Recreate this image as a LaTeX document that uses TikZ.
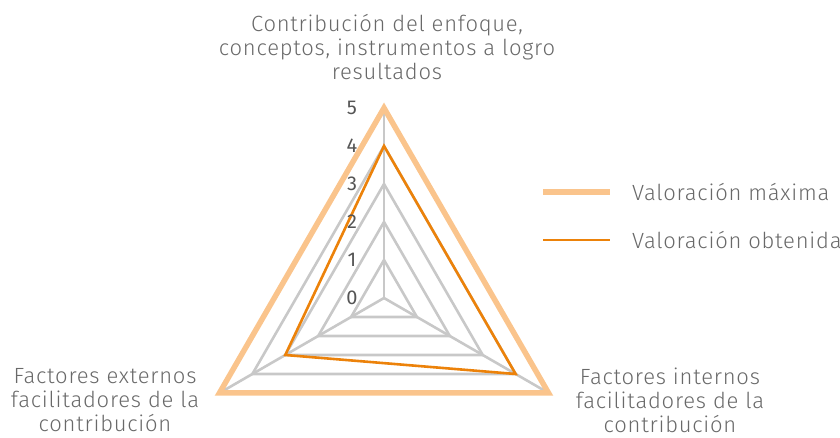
\documentclass[tikz,border=0pt]{standalone}
\usepackage{fontspec}
\setmainfont{Fira Sans}[UprightFont={* Light}, LetterSpace=3.5]
\newfontfamily\numfont{Fira Sans}
\definecolor{maxorange}{RGB}{250, 196, 140}
\definecolor{obtorange}{RGB}{236, 130, 10}
\definecolor{gridgray}{RGB}{200, 200, 200}
\definecolor{labelgray}{RGB}{105, 105, 105}
\definecolor{numgray}{RGB}{85, 85, 85}
\usetikzlibrary{positioning}

\tikzset{
  gridline/.style={draw=gridgray, line width=2.6pt},
  maxline/.style={draw=maxorange, line width=5.5pt},
  obtline/.style={draw=obtorange, line width=2.6pt},
  axislabel/.style={text=labelgray, align=center, font=\fontsize{22}{24}\selectfont, inner sep=0pt},
  numlabel/.style={text=numgray, font=\numfont\fontsize{20}{22}\selectfont, inner sep=0pt},
  legendtext/.style={text=labelgray, anchor=west, font=\fontsize{22}{24.5}\selectfont, inner sep=0pt}
}

\begin{document}
\begin{tikzpicture}[x=1pt, y=1pt]
  \useasboundingbox (0, 0) rectangle (840, 438);

  % Radar chart
  \begin{scope}[shift={(384, 140)}]
    \foreach \r in {1,...,4}
      \draw[gridline] (90:{\r*38}) -- (210:{\r*38}) -- (330:{\r*38}) -- cycle;
    \foreach \a in {90, 210, 330}
      \draw[gridline] (0, 0) -- (\a:190);

    % Valoracion maxima
    \draw[maxline] (90:190) -- (210:190) -- (330:190) -- cycle;
    % Valoracion obtenida
    \draw[obtline] (90:152) -- (210:114) -- (330:152) -- cycle;

    % Scale
    \foreach \k in {0,...,5}
      \node[numlabel] (num\k) at (-32, {\k*38}) {\k};
  \end{scope}

  % Axis labels
  \node[axislabel] (topaxis) at (387, 391) {Contribución del enfoque,\\conceptos, instrumentos a logro\\resultados};
  \node[axislabel] (leftaxis) at (105, 38) {Factores externos\\facilitadores de la\\contribución};
  \node[axislabel] (rightaxis) at (670, 38) {Factores internos\\facilitadores de la\\contribución};

  % Legend
  \coordinate (maxa) at (543, 246);
  \coordinate (maxb) at (610, 246);
  \draw[maxline] (maxa) -- (maxb);
  \node[legendtext] (legmax) at (632, 246) {Valoración máxima};

  \coordinate (obta) at (543, 198);
  \coordinate (obtb) at (610, 198);
  \draw[obtline] (obta) -- (obtb);
  \node[legendtext] (legobt) at (632, 198) {Valoración obtenida};
\end{tikzpicture}
\end{document}
